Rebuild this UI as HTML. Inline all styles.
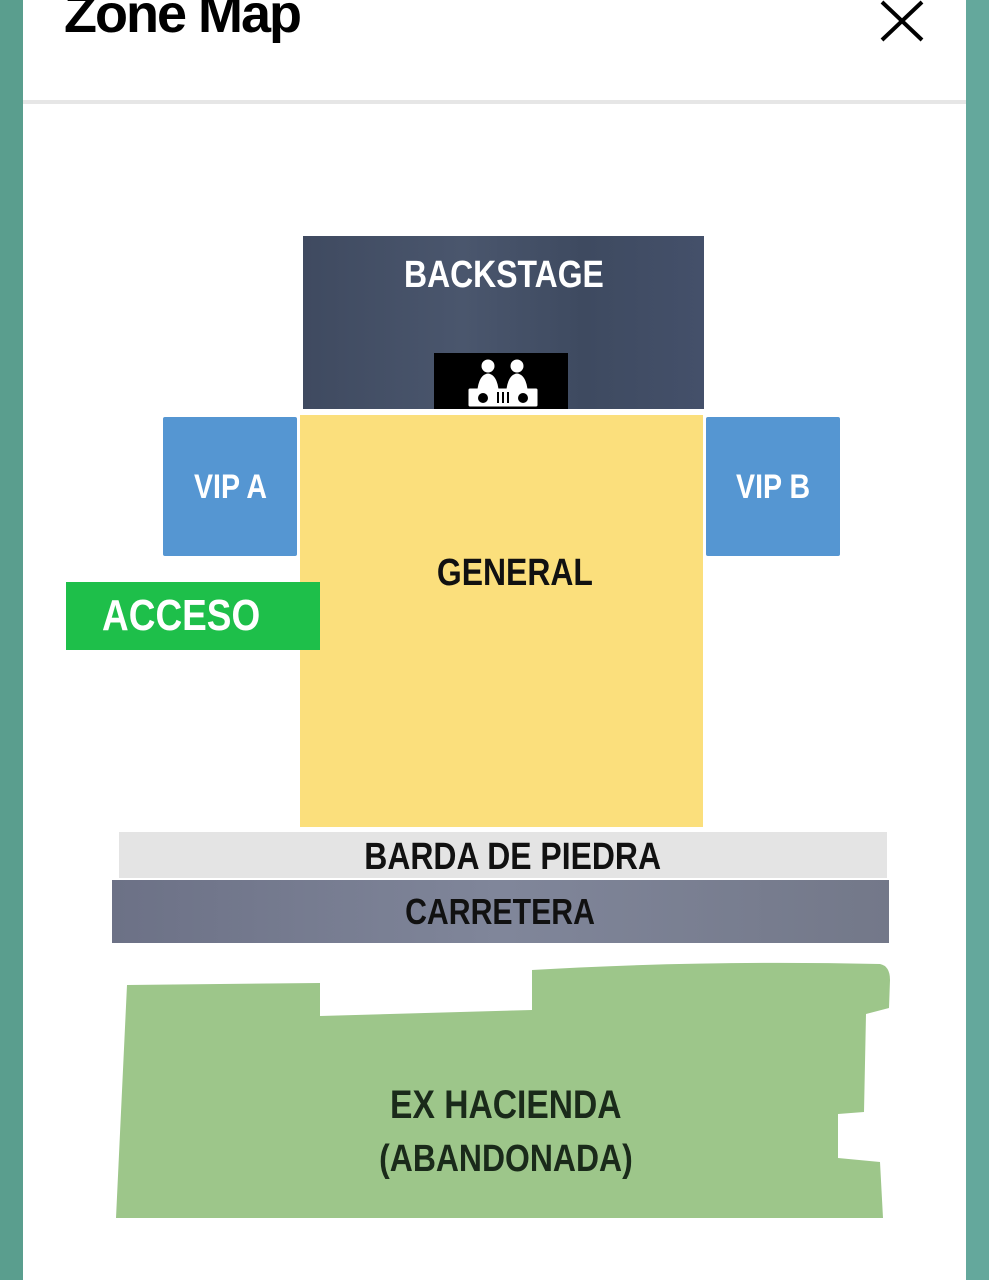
<!DOCTYPE html>
<html><head><meta charset="utf-8"><style>
*{margin:0;padding:0;box-sizing:border-box}
body{width:989px;height:1280px;position:relative;overflow:hidden;background:#fff;font-family:"Liberation Sans",sans-serif}
.a{position:absolute}
.t{position:absolute;display:flex;align-items:center;justify-content:center;white-space:nowrap;font-weight:bold}
.t span{display:inline-block;transform:scaleX(0.84)}
</style></head><body>
<div class="a" style="left:0;top:0;width:23px;height:1280px;background:#5a9e8e"></div>
<div class="a" style="left:966px;top:0;width:23px;height:1280px;background:#64a89c"></div>
<div class="a" style="left:23px;top:100px;width:943px;height:4px;background:#e6e6e6"></div>
<div class="a" style="left:64px;top:-13px;font-size:54px;line-height:1;font-weight:bold;letter-spacing:-2px;color:#000">Zone Map</div>
<svg class="a" style="left:878px;top:0" width="48" height="44"><path d="M4 2 L44 40 M44 2 L4 40" stroke="#000" stroke-width="4" fill="none"/></svg>

<div class="a" style="left:303px;top:236px;width:401px;height:173px;background:linear-gradient(90deg,#3f4a60,#4a566d 40%,#3e4a60 70%,#44506a)"></div>
<div class="t" style="left:303px;top:250px;width:401px;height:50px;color:#fff;font-size:38px"><span>BACKSTAGE</span></div>
<div class="a" style="left:434px;top:353px;width:134px;height:56px;background:#000"></div>
<svg class="a" style="left:466px;top:355px" width="74" height="54" viewBox="0 0 74 54">
<g fill="#fff" stroke="#fff">
<circle cx="22" cy="11" r="6"/><circle cx="51" cy="11" r="6"/>
<path d="M12 34 Q14 20 22 19 Q30 20 32 34 Z"/><path d="M41 34 Q43 20 51 19 Q59 20 61 34 Z"/>
<rect x="3" y="34" width="68" height="17" rx="1"/>
</g>
<g fill="#000"><circle cx="17" cy="43" r="5"/><circle cx="57" cy="43" r="5"/><rect x="31" y="37" width="2" height="11"/><rect x="36" y="37" width="2" height="11"/><rect x="41" y="37" width="2" height="11"/></g>
</svg>

<div class="a" style="left:300px;top:415px;width:403px;height:412px;background:#fbdf7c"></div>
<div class="t" style="left:300px;top:548px;width:430px;height:50px;color:#111;font-size:38px"><span>GENERAL</span></div>

<div class="a" style="left:163px;top:417px;width:134px;height:139px;background:#5596d2;border-radius:2px"></div>
<div class="t" style="left:163px;top:462px;width:134px;height:50px;color:#fff;font-size:34px"><span>VIP A</span></div>
<div class="a" style="left:706px;top:417px;width:134px;height:139px;background:#5596d2;border-radius:2px"></div>
<div class="t" style="left:706px;top:462px;width:134px;height:50px;color:#fff;font-size:34px"><span>VIP B</span></div>

<div class="a" style="left:66px;top:582px;width:254px;height:68px;background:#1ebf4a"></div>
<div class="t" style="left:66px;top:590px;width:230px;height:52px;color:#fff;font-size:44px"><span>ACCESO</span></div>

<div class="a" style="left:119px;top:832px;width:768px;height:46px;background:#e4e4e4"></div>
<div class="t" style="left:119px;top:834px;width:788px;height:46px;color:#111;font-size:38px"><span>BARDA DE PIEDRA</span></div>
<div class="a" style="left:112px;top:880px;width:777px;height:63px;background:linear-gradient(90deg,#6c7186,#80869a 50%,#737889)"></div>
<div class="t" style="left:112px;top:888px;width:777px;height:48px;color:#111;font-size:36px"><span>CARRETERA</span></div>

<svg class="a" style="left:0;top:0" width="989" height="1280">
<path d="M127 985 L320 983 L320 1016 L532 1010 L532 970 Q700 960 880 964 Q890 966 890 980 L889 1008 L866 1014 L864 1112 L838 1114 L838 1158 L880 1162 L883 1218 L116 1218 Z" fill="#9dc68a"/>
</svg>
<div class="t" style="left:116px;top:1080px;width:780px;height:50px;color:#1a2a1a;font-size:40px"><span>EX HACIENDA</span></div>
<div class="t" style="left:116px;top:1134px;width:780px;height:50px;color:#1a2a1a;font-size:38px"><span>(ABANDONADA)</span></div>
</body></html>
